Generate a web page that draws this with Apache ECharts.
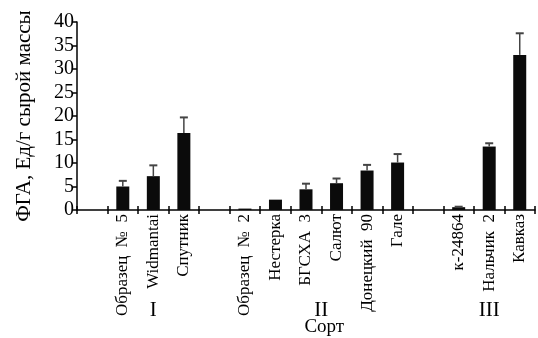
<!DOCTYPE html>
<html><head><meta charset="utf-8">
<script src="https://cdn.jsdelivr.net/npm/echarts@6/dist/echarts.min.js"></script>
<style>html,body{margin:0;padding:0;background:#fff}#c{width:538px;height:338px}</style>
</head><body><div id="c"></div>
<script>
const categories = ['', 'Образец  №  5', 'Widmantai', 'Спутник', '', 'Образец  №  2', 'Нестерка', 'БГСХА  3', 'Салют', 'Донецкий  90', 'Гале', '', 'к-24864', 'Нальчик  2', 'Кавказ'];
const values = [null, 5.0, 7.2, 16.4, null, 0.3, 2.2, 4.4, 5.7, 8.4, 10.1, null, 0.6, 13.5, 33.0];
const errors = [null, 1.2, 2.3, 3.3, null, 0, 0, 1.2, 1.0, 1.2, 1.8, null, 0.1, 0.7, 4.6];
const groupLabels = [[2, 'I', 0], [7, 'II', 0.5], [13, 'III', 0]];
const yTicks = {min: 0, max: 40, interval: 5};
const xTitle = 'Сорт';
const yTitle = 'ФГА, Ед/г сырой массы';

const font = 'Liberation Serif';
const chart = echarts.init(document.getElementById('c'), null, {renderer: 'canvas'});
const errData = categories.map((c, i) => [i, values[i], errors[i]]).filter(d => d[1] != null);

chart.setOption({
  animation: false,
  grid: {left: 77, right: 3, top: 22, bottom: 128, containLabel: false},
  xAxis: [{
    type: 'category', data: categories, boundaryGap: true,
    axisLine: {lineStyle: {color: '#000', width: 1.5}},
    axisTick: {show: true, interval: 0, length: 4, lineStyle: {color: '#000', width: 1.5}},
    axisLabel: {interval: 0, rotate: 90, margin: 4, fontFamily: font, fontSize: 17, color: '#000'}
  }, {
    type: 'category', data: categories, boundaryGap: true, position: 'bottom',
    axisLine: {show: false},
    axisTick: {show: true, inside: true, interval: 0, length: 4, lineStyle: {color: '#000', width: 1.5}},
    axisLabel: {show: false}
  }],
  yAxis: {
    type: 'value', min: yTicks.min, max: yTicks.max, interval: yTicks.interval,
    name: yTitle, nameLocation: 'middle', nameRotate: 90, nameGap: 42,
    nameTextStyle: {fontFamily: font, fontSize: 21, color: '#000'},
    axisLine: {show: true, lineStyle: {color: '#000', width: 1.5}},
    axisTick: {show: true, length: 4, lineStyle: {color: '#000', width: 1.5}},
    axisLabel: {margin: 3, fontFamily: font, fontSize: 20, color: '#000'},
    splitLine: {show: false}
  },
  series: [{
    type: 'bar', data: values, barWidth: 13, xAxisIndex: 0,
    itemStyle: {color: '#0b0b0b'}
  }, {
    type: 'custom', xAxisIndex: 0, data: errData, z: 3,
    renderItem: function (params, api) {
      const i = api.value(0), v = api.value(1), e = api.value(2);
      if (!e) return null;
      const p0 = api.coord([i, v]);
      const p1 = api.coord([i, v + e]);
      const cap = 4;
      return {type: 'group', children: [
        {type: 'line', shape: {x1: p0[0], y1: p0[1], x2: p1[0], y2: p1[1]}, style: {stroke: '#444', lineWidth: 1.5}},
        {type: 'line', shape: {x1: p1[0] - cap, y1: p1[1], x2: p1[0] + cap, y2: p1[1]}, style: {stroke: '#444', lineWidth: 2}}
      ]};
    }
  }, {
    type: 'custom', xAxisIndex: 0, data: groupLabels, silent: true,
    renderItem: function (params, api) {
      const i = api.value(0), shift = api.value(2);
      const p = api.coord([i, 0]);
      const bw = api.size([1, 0])[0];
      const x = p[0] + shift * bw;
      const children = [{type: 'text', style: {x: x, y: p[1] + 100, text: groupLabels[params.dataIndex][1], font: '21px "' + font + '"', fill: '#000', align: 'center', verticalAlign: 'middle'}}];
      if (params.dataIndex === 1) {
        children.push({type: 'text', style: {x: x + 3, y: p[1] + 117, text: xTitle, font: '19px "' + font + '"', fill: '#000', align: 'center', verticalAlign: 'middle'}});
      }
      return {type: 'group', children: children};
    }
  }]
});
</script></body></html>
